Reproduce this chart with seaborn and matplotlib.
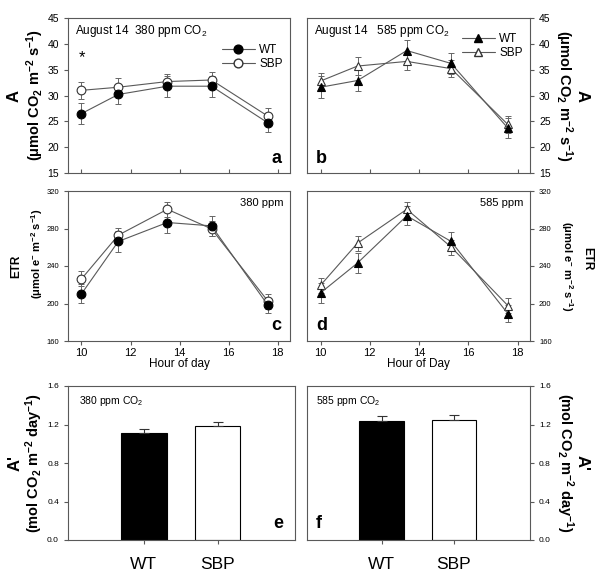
import numpy as np
import pandas as pd
import seaborn as sns
from matplotlib import pyplot as plt
from matplotlib.lines import Line2D

# hour of day for the diurnal measurements
hours = [10, 11.5, 13.5, 15.3, 17.6]

# panel a: A at 380 ppm
a_wt = [26.5, 30.2, 31.8, 31.8, 24.7]
a_wt_err = [2.0, 1.9, 2.0, 2.0, 1.8]
a_sbp = [31.0, 31.6, 32.7, 33.0, 26.0]
a_sbp_err = [1.7, 1.7, 1.5, 1.5, 1.5]

# panel b: A at 585 ppm
b_wt = [31.6, 32.9, 38.7, 36.2, 23.7]
b_wt_err = [2.1, 2.0, 2.1, 2.0, 2.0]
b_sbp = [32.8, 35.7, 36.6, 35.2, 24.4]
b_sbp_err = [1.6, 1.7, 1.7, 1.7, 1.6]

# panel c: ETR at 380 ppm
c_wt = [210.3, 266.2, 286.4, 282.8, 198.2]
c_wt_err = [10, 11, 11, 11, 8]
c_sbp = [226.2, 272.9, 300.5, 279.6, 202.5]
c_sbp_err = [8, 8, 8, 8, 8]

# panel d: ETR at 585 ppm
d_wt = [211.3, 243.2, 293.5, 266.2, 189.2]
d_wt_err = [11, 11, 10, 10, 9]
d_sbp = [219.5, 264.4, 300.5, 260.2, 197.8]
d_sbp_err = [8, 8, 8, 8, 8]

# panels e, f: daily integrated A'
genotypes = ["WT", "SBP"]
e_vals = [1.11, 1.18]
e_err = [0.045, 0.05]
f_vals = [1.234, 1.251]
f_err = [0.05, 0.05]

sns.set_style("ticks")
plt.rcParams['font.family'] = ['Liberation Sans', 'DejaVu Sans']
plt.rcParams['mathtext.fontset'] = 'custom'
plt.rcParams['mathtext.rm'] = 'Liberation Sans'
plt.rcParams['mathtext.bf'] = 'Liberation Sans:bold'
plt.rcParams['mathtext.default'] = 'regular'
plt.rcParams['axes.linewidth'] = 0.8
plt.rcParams['text.color'] = 'black'
plt.rcParams['axes.labelcolor'] = 'black'
plt.rcParams['xtick.labelcolor'] = 'black'
plt.rcParams['ytick.labelcolor'] = 'black'

W, H = 600, 580
MS = 6.3
fig = plt.figure(figsize=(6, 5.8), dpi=100)


def px_axes(x0, y0, x1, y1):
    return fig.add_axes([x0 / W, 1 - y1 / H, (x1 - x0) / W, (y1 - y0) / H])


def line_panel(ax, wt, wt_err, sbp, sbp_err, marker):
    for vals, err in [(wt, wt_err), (sbp, sbp_err)]:
        ax.errorbar(hours, vals, yerr=err, fmt='none', ecolor='0.4',
                    elinewidth=0.7, capsize=2.5, capthick=0.7, zorder=1)
    sns.lineplot(x=hours, y=sbp, ax=ax, color='0.35', lw=0.8, marker=marker,
                 markersize=MS, markerfacecolor='white', markeredgecolor='0.2',
                 markeredgewidth=0.8, zorder=2)
    sns.lineplot(x=hours, y=wt, ax=ax, color='0.35', lw=0.8, marker=marker,
                 markersize=MS, markerfacecolor='black', markeredgecolor='black',
                 markeredgewidth=0.8, zorder=3)
    ax.set_xlim(9.45, 18.5)
    ax.set_xticks([10, 12, 14, 16, 18])
    for s in ax.spines.values():
        s.set_visible(True)
        s.set_color('0.35')


def add_legend(ax, marker, anchor):
    handles = [Line2D([], [], color='0.35', lw=0.8, marker=marker, markersize=MS,
                      markerfacecolor='black', markeredgecolor='black'),
               Line2D([], [], color='0.35', lw=0.8, marker=marker, markersize=MS,
                      markerfacecolor='white', markeredgecolor='0.2')]
    ax.legend(handles, genotypes, loc='upper right', bbox_to_anchor=anchor,
              frameon=False, fontsize=8.5, handlelength=2.8, handletextpad=0.4,
              labelspacing=0.2, borderaxespad=0.2)


# ---- panel a
ax_a = px_axes(68, 18, 290, 173)
line_panel(ax_a, a_wt, a_wt_err, a_sbp, a_sbp_err, 'o')
ax_a.set_ylim(15, 45)
ax_a.set_yticks(range(15, 46, 5))
ax_a.tick_params(axis='x', direction='in', labelbottom=False, length=3, color='0.35')
ax_a.tick_params(axis='y', direction='out', labelsize=7.5, length=3, color='0.35')
add_legend(ax_a, 'o', (1.0, 0.88))
ax_a.text(0.03, 0.97, 'August 14  380 ppm CO$_2$', transform=ax_a.transAxes,
          fontsize=8.5, va='top', ha='left')
ax_a.text(10, 37.3, '*', fontsize=12, ha='center', va='center')
ax_a.text(0.96, 0.04, 'a', transform=ax_a.transAxes, fontsize=13,
          fontweight='bold', ha='right', va='bottom')
ax_a.text(-0.245, 0.5, 'A', transform=ax_a.transAxes, rotation=90, fontsize=12,
          fontweight='bold', ha='center', va='center')
ax_a.text(-0.15, 0.5, r'($\mathbf{\mu}$mol CO$_\mathbf{2}$ m$^\mathbf{-2}$ s$^\mathbf{-1}$)',
          transform=ax_a.transAxes, rotation=90, fontsize=10.5, fontweight='bold',
          ha='center', va='center')

# ---- panel b
ax_b = px_axes(307, 18, 530, 173)
line_panel(ax_b, b_wt, b_wt_err, b_sbp, b_sbp_err, '^')
ax_b.set_ylim(15, 45)
ax_b.set_yticks(range(15, 46, 5))
ax_b.yaxis.tick_right()
ax_b.tick_params(axis='x', direction='in', labelbottom=False, length=3, color='0.35')
ax_b.tick_params(axis='y', direction='out', labelsize=7.5, length=3, color='0.35')
add_legend(ax_b, '^', (1.0, 0.95))
ax_b.text(0.03, 0.97, 'August 14   585 ppm CO$_2$', transform=ax_b.transAxes,
          fontsize=8.5, va='top', ha='left')
ax_b.text(0.04, 0.04, 'b', transform=ax_b.transAxes, fontsize=13,
          fontweight='bold', ha='left', va='bottom')
ax_b.text(1.235, 0.5, 'A', transform=ax_b.transAxes, rotation=270, fontsize=12,
          fontweight='bold', ha='center', va='center')
ax_b.text(1.15, 0.5, r'($\mathbf{\mu}$mol CO$_\mathbf{2}$ m$^\mathbf{-2}$ s$^\mathbf{-1}$)',
          transform=ax_b.transAxes, rotation=270, fontsize=10.5, fontweight='bold',
          ha='center', va='center')

# ---- panel c
ax_c = px_axes(68, 191, 290, 341)
line_panel(ax_c, c_wt, c_wt_err, c_sbp, c_sbp_err, 'o')
ax_c.set_ylim(160, 320)
ax_c.set_yticks(range(160, 321, 40))
ax_c.tick_params(axis='x', direction='out', labelsize=8, length=3, color='0.35', pad=2)
ax_c.tick_params(axis='y', direction='out', labelsize=5.5, length=3, color='0.35')
ax_c.set_xlabel('Hour of day', fontsize=8.5, labelpad=0)
ax_c.text(0.97, 0.95, '380 ppm', transform=ax_c.transAxes, fontsize=8,
          va='top', ha='right')
ax_c.text(0.96, 0.05, 'c', transform=ax_c.transAxes, fontsize=13,
          fontweight='bold', ha='right', va='bottom')
ax_c.text(-0.235, 0.5, 'ETR', transform=ax_c.transAxes, rotation=90, fontsize=8.5,
          fontweight='bold', ha='center', va='center')
ax_c.text(-0.14, 0.58, r'($\mathbf{\mu}$mol e$^\mathbf{-}$ m$^\mathbf{-2}$ s$^\mathbf{-1}$)',
          transform=ax_c.transAxes, rotation=90, fontsize=8, fontweight='bold',
          ha='center', va='center')

# ---- panel d
ax_d = px_axes(307, 191, 530, 341)
line_panel(ax_d, d_wt, d_wt_err, d_sbp, d_sbp_err, '^')
ax_d.set_ylim(160, 320)
ax_d.set_yticks(range(160, 321, 40))
ax_d.yaxis.tick_right()
ax_d.tick_params(axis='x', direction='out', labelsize=8, length=3, color='0.35', pad=2)
ax_d.tick_params(axis='y', direction='out', labelsize=5.5, length=3, color='0.35')
ax_d.set_xlabel('Hour of Day', fontsize=8.5, labelpad=0)
ax_d.text(0.97, 0.95, '585 ppm', transform=ax_d.transAxes, fontsize=8,
          va='top', ha='right')
ax_d.text(0.04, 0.05, 'd', transform=ax_d.transAxes, fontsize=13,
          fontweight='bold', ha='left', va='bottom')
ax_d.text(1.255, 0.55, 'ETR', transform=ax_d.transAxes, rotation=270, fontsize=8.5,
          fontweight='bold', ha='center', va='center')
ax_d.text(1.165, 0.5, r'($\mathbf{\mu}$mol e$^\mathbf{-}$ m$^\mathbf{-2}$ s$^\mathbf{-1}$)',
          transform=ax_d.transAxes, rotation=270, fontsize=8, fontweight='bold',
          ha='center', va='center')


# ---- bar panels e, f
def bar_panel(ax, vals, err):
    df = pd.DataFrame({'genotype': genotypes, 'value': vals})
    sns.barplot(data=df, x='genotype', y='value', hue='genotype', ax=ax,
                palette={'WT': 'black', 'SBP': 'white'}, edgecolor='black',
                linewidth=0.8, width=0.62, legend=False, errorbar=None)
    ax.errorbar([0, 1], vals, yerr=[[0, 0], err], fmt='none', ecolor='0.2',
                elinewidth=0.8, capsize=3.5, capthick=0.8)
    ax.set_xlim(-1.03, 2.05)
    ax.set_ylim(0, 1.6)
    ax.set_yticks([0.0, 0.4, 0.8, 1.2, 1.6])
    ax.set_yticklabels(['0.0', '0.4', '0.8', '1.2', '1.6'])
    ax.set_xlabel('')
    ax.set_ylabel('')
    for s in ax.spines.values():
        s.set_visible(True)
        s.set_color('0.35')
    ax.tick_params(axis='x', direction='out', labelsize=12.5, length=3,
                   color='0.35', pad=9)
    ax.tick_params(axis='y', direction='out', labelsize=6, length=3, color='0.35')


ax_e = px_axes(68, 386, 295, 540)
bar_panel(ax_e, e_vals, e_err)
ax_e.text(0.05, 0.95, '380 ppm CO$_2$', transform=ax_e.transAxes, fontsize=7.5,
          va='top', ha='left')
ax_e.text(0.95, 0.05, 'e', transform=ax_e.transAxes, fontsize=13,
          fontweight='bold', ha='right', va='bottom')
ax_e.text(-0.235, 0.5, "A'", transform=ax_e.transAxes, rotation=90, fontsize=12,
          fontweight='bold', ha='center', va='center')
ax_e.text(-0.15, 0.5, r'(mol CO$_\mathbf{2}$ m$^\mathbf{-2}$ day$^\mathbf{-1}$)',
          transform=ax_e.transAxes, rotation=90, fontsize=10.5, fontweight='bold',
          ha='center', va='center')

ax_f = px_axes(307, 386, 530, 540)
bar_panel(ax_f, f_vals, f_err)
ax_f.yaxis.tick_right()
ax_f.text(0.04, 0.95, '585 ppm CO$_2$', transform=ax_f.transAxes, fontsize=7.5,
          va='top', ha='left')
ax_f.text(0.04, 0.05, 'f', transform=ax_f.transAxes, fontsize=13,
          fontweight='bold', ha='left', va='bottom')
ax_f.text(1.235, 0.5, "A'", transform=ax_f.transAxes, rotation=270, fontsize=12,
          fontweight='bold', ha='center', va='center')
ax_f.text(1.155, 0.5, r'(mol CO$_\mathbf{2}$ m$^\mathbf{-2}$ day$^\mathbf{-1}$)',
          transform=ax_f.transAxes, rotation=270, fontsize=10.5, fontweight='bold',
          ha='center', va='center')

fig.savefig('out.png', dpi=100)
